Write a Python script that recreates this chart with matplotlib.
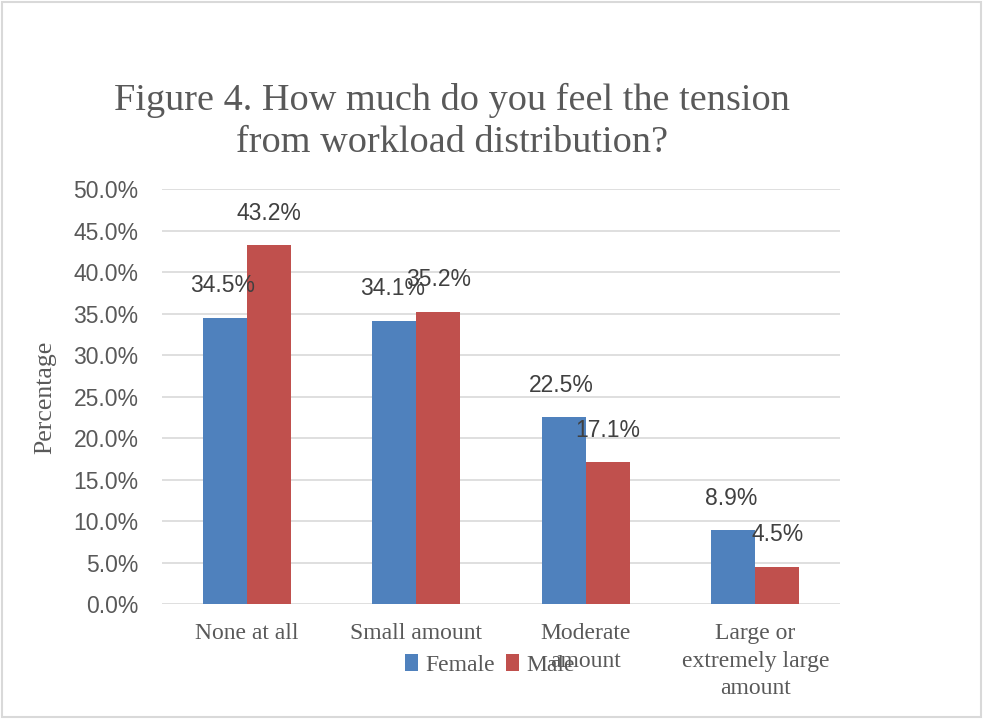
import matplotlib
matplotlib.use("Agg")
import matplotlib.pyplot as plt
from matplotlib.patches import Rectangle
import numpy as np

categories = ["None at all", "Small amount", "Moderate\namount", "Large or\nextremely large\namount"]
female = [34.5, 34.1, 22.5, 8.9]
male = [43.2, 35.2, 17.1, 4.5]
yticks = [0, 5, 10, 15, 20, 25, 30, 35, 40, 45, 50]

W, H = 983, 719
fig = plt.figure(figsize=(W/100, H/100), dpi=100)
ax = fig.add_axes([162/W, 1-604/H, (840-162)/W, (604-189)/H])

serif = "Liberation Serif"
sans = "Liberation Sans"
txt = "#595959"

x = np.arange(len(categories))
bw = 0.26
ax.bar(x - bw/2, female, bw, color="#4F81BD", label="Female", zorder=3)
ax.bar(x + bw/2, male, bw, color="#C0504D", label="Male", zorder=3)

for xi, v in zip(x - bw/2, female):
    ax.annotate(f"{v:.1f}%", (xi, v), xytext=(-2, 32), textcoords="offset pixels",
                ha="center", va="center", fontsize=16.5, family=sans, color="#404040")
for xi, v in zip(x + bw/2, male):
    ax.annotate(f"{v:.1f}%", (xi, v), xytext=(0, 32), textcoords="offset pixels",
                ha="center", va="center", fontsize=16.5, family=sans, color="#404040")

ax.set_xlim(-0.5, 3.5)
ax.set_ylim(0, 50)
ax.set_yticks(yticks)
ax.set_yticklabels([f"{t:.1f}%" for t in yticks], family=sans, fontsize=16.5, color=txt)
ax.set_xticks(x)
ax.set_xticklabels(categories, family=serif, fontsize=17, color=txt, linespacing=1.4, va="top")
ax.tick_params(axis="both", length=0)
ax.tick_params(axis="y", pad=17)
ax.tick_params(axis="x", pad=14)
ax.grid(axis="y", color="#D9D9D9", linewidth=1.2, zorder=0)
for s in ax.spines.values():
    s.set_visible(False)

ax.set_ylabel("Percentage", family=serif, fontsize=18.5, color=txt)
ax.yaxis.set_label_coords(56/W, 1-397/H, transform=fig.transFigure)

fig.text(452/W, 1-100/H, "Figure 4. How much do you feel the tension", ha="center", va="center",
         family=serif, fontsize=27.5, color=txt)
fig.text(452/W, 1-143/H, "from workload distribution?", ha="center", va="center",
         family=serif, fontsize=27.5, color=txt)

leg = fig.legend(loc="center", bbox_to_anchor=(490/W, 1-665/H), ncol=2, frameon=False,
                 prop={"family": serif, "size": 17}, handlelength=0.55, handleheight=0.75,
                 handletextpad=0.3, columnspacing=0.5)
for t in leg.get_texts():
    t.set_color(txt)

fig.patches.append(Rectangle((2/W, 2/H), (W-4)/W, (H-4)/H, transform=fig.transFigure,
                             fill=False, edgecolor="#D9D9D9", linewidth=1.5))

fig.savefig("out.png", dpi=100)
